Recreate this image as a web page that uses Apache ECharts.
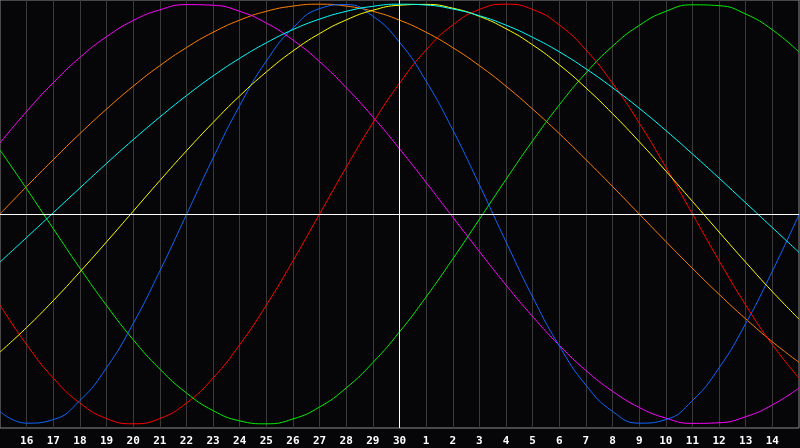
<!DOCTYPE html>
<html>
<head>
<meta charset="utf-8">
<script src="https://cdn.jsdelivr.net/npm/echarts@6/dist/echarts.min.js"></script>
<style>
html,body{margin:0;padding:0;background:#060609;}
#c{width:800px;height:448px;}
</style>
</head>
<body>
<div id="c"></div>
<script>
var days = ['15','16','17','18','19','20','21','22','23','24','25','26','27','28','29','30',
            '1','2','3','4','5','6','7','8','9','10','11','12','13','14','15'];
var todayIndex = 15;

var red = [-0.434,-0.623,-0.782,-0.901,-0.975,-1.000,-0.975,-0.901,-0.782,-0.623,-0.434,-0.223,0.000,0.223,0.434,0.623,
           0.782,0.901,0.975,1.000,0.975,0.901,0.782,0.623,0.434,0.223,0.000,-0.223,-0.434,-0.623,-0.782];
var green = [0.305,0.120,-0.070,-0.258,-0.436,-0.599,-0.739,-0.853,-0.937,-0.986,-1.000,-0.977,-0.920,-0.829,-0.708,-0.562,
             -0.395,-0.214,-0.025,0.165,0.349,0.520,0.672,0.800,0.899,0.966,0.997,0.993,0.953,0.878,0.772];
var blue = [-0.941,-0.997,-0.980,-0.889,-0.733,-0.522,-0.272,-0.003,0.267,0.517,0.729,0.887,0.979,0.998,0.943,0.819,
            0.633,0.401,0.139,-0.133,-0.396,-0.629,-0.816,-0.941,-0.997,-0.980,-0.889,-0.733,-0.522,-0.272,-0.003];
var magenta = [0.339,0.489,0.626,0.746,0.845,0.922,0.973,0.998,0.995,0.966,0.910,0.829,0.726,0.602,0.463,0.311,
               0.150,-0.015,-0.179,-0.339,-0.489,-0.626,-0.746,-0.845,-0.922,-0.973,-0.998,-0.995,-0.966,-0.910,-0.829];
var orange = [0.000,0.131,0.259,0.383,0.500,0.609,0.707,0.793,0.866,0.924,0.966,0.991,1.000,0.991,0.966,0.924,
              0.866,0.793,0.707,0.609,0.500,0.383,0.259,0.131,0.000,-0.131,-0.259,-0.383,-0.500,-0.609,-0.707];
var cyan = [-0.229,-0.112,0.006,0.124,0.241,0.354,0.462,0.564,0.658,0.742,0.816,0.879,0.929,0.966,0.990,1.000,
            0.996,0.977,0.945,0.900,0.842,0.773,0.692,0.602,0.504,0.398,0.286,0.171,0.053,-0.065,-0.183];
var yellow = [-0.658,-0.541,-0.413,-0.276,-0.133,0.013,0.159,0.301,0.436,0.563,0.677,0.777,0.860,0.925,0.971,0.995,
              0.999,0.981,0.942,0.883,0.806,0.711,0.601,0.478,0.345,0.205,0.060,-0.086,-0.230,-0.370,-0.501];

var chart = echarts.init(document.getElementById('c'));

function line(name, data, color) {
  return {
    name: name, type: 'line', data: data, smooth: true, symbol: 'none',
    lineStyle: {color: color, width: 1}, z: 3
  };
}

chart.setOption({
  backgroundColor: '#060609',
  animation: false,
  grid: {left: 0, right: 1, top: 0, bottom: 20, show: true, borderColor: '#8a8a8a', borderWidth: 1, backgroundColor: 'transparent'},
  xAxis: {
    type: 'category', data: days, boundaryGap: false,
    axisLine: {show: true, lineStyle: {color: '#a0a0a0', width: 1}},
    axisTick: {show: false},
    axisLabel: {
      color: '#ffffff', fontWeight: 'bold', fontFamily: 'DejaVu Sans Mono', fontSize: 11, margin: 8,
      interval: function (i) { return i > 0 && i < days.length - 1; }
    },
    splitLine: {show: true, lineStyle: {color: '#3a3a3a', width: 1}}
  },
  yAxis: {
    type: 'value', min: -1.02, max: 1.02, show: false,
    splitLine: {show: false}
  },
  series: [
    {
      type: 'line', data: [], z: 2, silent: true,
      markLine: {
        silent: true, symbol: 'none', animation: false,
        label: {show: false},
        lineStyle: {color: '#ffffff', width: 1, type: 'solid'},
        data: [{xAxis: todayIndex}, {yAxis: 0}]
      }
    },
    line('orange', orange, '#ff8000'),
    line('magenta', magenta, '#ff00ff'),
    line('red', red, '#ff0000'),
    line('green', green, '#00ee00'),
    line('blue', blue, '#1066ff'),
    line('yellow', yellow, '#ffff00'),
    line('cyan', cyan, '#00ffff')
  ]
});
</script>
</body>
</html>
